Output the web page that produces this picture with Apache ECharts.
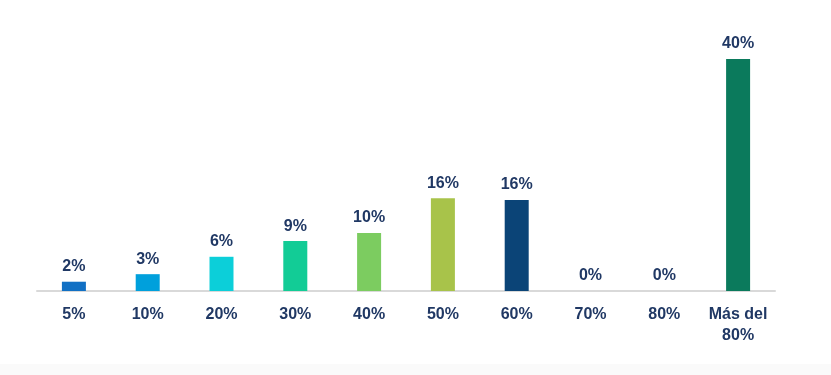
<!DOCTYPE html>
<html><head><meta charset="utf-8">
<script src="https://cdn.jsdelivr.net/npm/echarts@6/dist/echarts.min.js"></script>
<style>html,body{margin:0;padding:0;background:#fff}#c{width:831px;height:375px}</style>
</head><body><div id="c"></div>
<script>
var categories = ['5%', '10%', '20%', '30%', '40%', '50%', '60%', '70%', '80%', 'Más del\n80%'];
var values = [1.6, 2.9, 5.9, 8.6, 10, 16, 15.7, 0, 0, 40];
var valueLabels = ['2%', '3%', '6%', '9%', '10%', '16%', '16%', '0%', '0%', '40%'];
var barColors = ['#1170c4', '#00a0dc', '#0ccfd9', '#12cc96', '#7ccc60', '#a8c34a', '#0b4477', '#0b4477', '#0b4477', '#0b7a5c'];
var FONT = '"Liberation Sans", Arial, sans-serif';
var chart = echarts.init(document.getElementById('c'));
chart.setOption({
  animation: false,
  graphic: [{type: 'rect', shape: {x: 0, y: 364, width: 831, height: 11}, style: {fill: '#fafafa'}, silent: true}],
  grid: {left: 37, right: 56, top: 59, bottom: 84},
  xAxis: {
    type: 'category', data: categories,
    axisLine: {lineStyle: {color: '#d9d9d9', width: 2}},
    axisTick: {show: false},
    axisLabel: {interval: 0, color: '#203864', fontFamily: FONT, fontWeight: 'bold', fontSize: 16, margin: 13, lineHeight: 21}
  },
  yAxis: {type: 'value', min: 0, max: 40, show: false, splitLine: {show: false}},
  series: [{
    type: 'bar', barWidth: 24,
    data: values.map(function (v, i) { return {value: v, itemStyle: {color: barColors[i]}}; }),
    label: {
      show: true, position: 'top', distance: 7,
      color: '#203864', fontFamily: FONT, fontWeight: 'bold', fontSize: 16,
      formatter: function (p) { return valueLabels[p.dataIndex]; }
    }
  }]
});
</script></body></html>
